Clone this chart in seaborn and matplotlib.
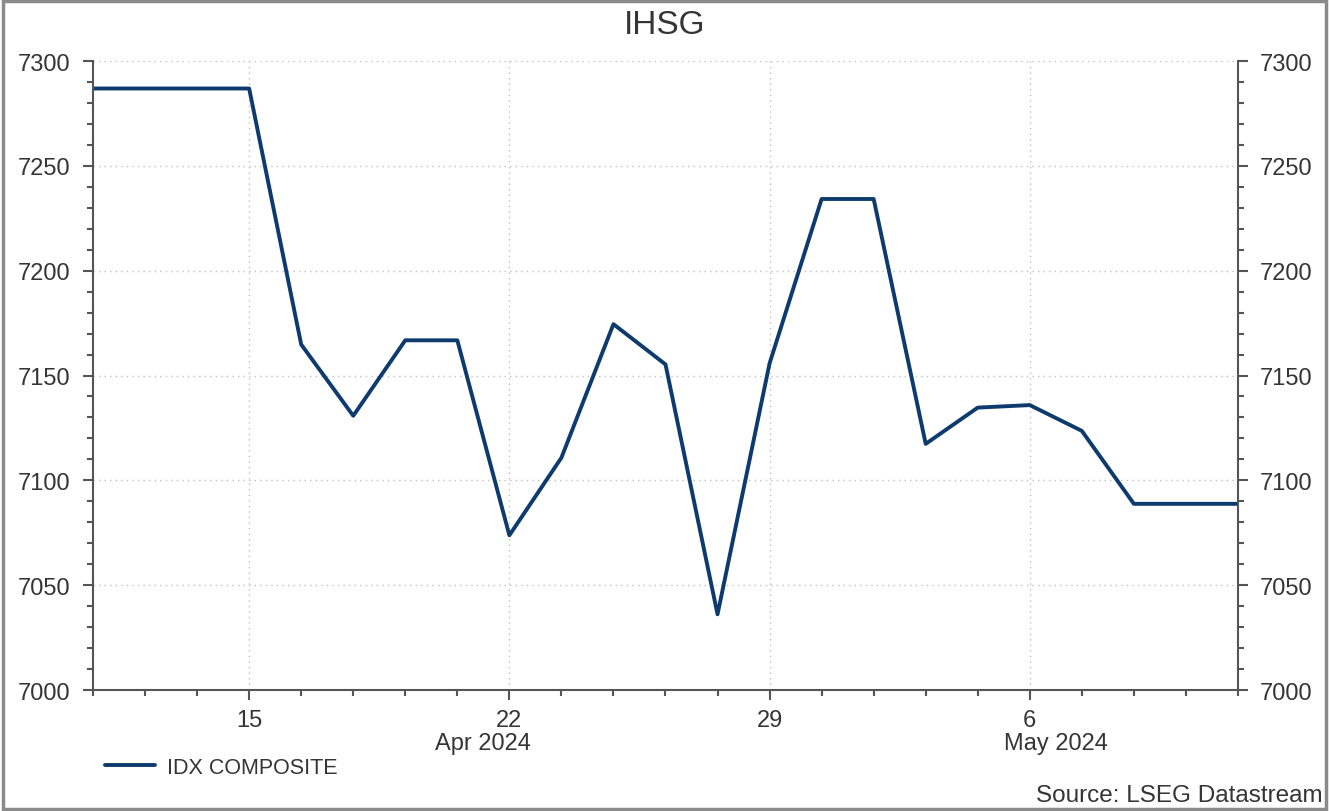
import matplotlib
matplotlib.use("Agg")
import matplotlib.pyplot as plt
import seaborn as sns
import pandas as pd
from matplotlib.patches import Rectangle
from matplotlib.ticker import MultipleLocator, FixedLocator, FixedFormatter

# IDX Composite, business days 10 Apr - 10 May 2024
dates = ['2024-04-10', '2024-04-11', '2024-04-12', '2024-04-15', '2024-04-16',
         '2024-04-17', '2024-04-18', '2024-04-19', '2024-04-22', '2024-04-23',
         '2024-04-24', '2024-04-25', '2024-04-26', '2024-04-29', '2024-04-30',
         '2024-05-01', '2024-05-02', '2024-05-03', '2024-05-06', '2024-05-07',
         '2024-05-08', '2024-05-09', '2024-05-10']
values = [7286.9, 7286.9, 7286.9, 7286.9, 7164.8,
          7130.8, 7166.8, 7166.8, 7073.8, 7110.8,
          7174.5, 7155.3, 7036.1, 7155.8, 7234.2,
          7234.2, 7117.4, 7134.7, 7135.9, 7123.6,
          7088.8, 7088.8, 7088.8]
tick_labels = ['15', '22', '29', '6']
month_labels = ['Apr 2024', 'May 2024']

df = pd.DataFrame({'date': pd.to_datetime(dates), 'value': values})
df['pos'] = range(len(df))  # business-day axis, weekends removed

sns.set_theme(style="white")
plt.rcParams['font.family'] = ['Liberation Sans', 'DejaVu Sans']

text_col = '#353535'
axis_col = '#555555'
line_col = '#0d3b6e'

fig = plt.figure(figsize=(13.29, 8.12), dpi=100)
ax = fig.add_axes([0.07, 0.149, 0.8615, 0.7746])

sns.lineplot(data=df, x='pos', y='value', ax=ax, color=line_col,
             linewidth=2.8, label='IDX COMPOSITE')

last = len(df) - 1
ax.set_xlim(0, last)
ax.set_ylim(7000, 7300)

# major x ticks on Mondays
major_pos = [int(p) for p, d in zip(df['pos'], df['date']) if d.weekday() == 0]
ax.xaxis.set_major_locator(FixedLocator(major_pos))
ax.xaxis.set_major_formatter(FixedFormatter(tick_labels))
ax.xaxis.set_minor_locator(MultipleLocator(1))
ax.yaxis.set_major_locator(MultipleLocator(50))
ax.yaxis.set_minor_locator(MultipleLocator(10))

ax.tick_params(which='both', direction='out', colors=axis_col, labelcolor=text_col,
               left=True, right=True, bottom=True, labelright=True, labelsize=17)
ax.tick_params(which='major', length=7, width=1.5)
ax.tick_params(which='minor', length=4, width=1.5)
ax.tick_params(axis='x', pad=7)
ax.tick_params(axis='y', pad=9)

for side in ['left', 'right', 'bottom']:
    ax.spines[side].set_color(axis_col)
    ax.spines[side].set_linewidth(1.5)
ax.spines['top'].set_visible(False)

ax.grid(True, which='major', linestyle=(0, (1, 3)), color='#c0c0c0', linewidth=1)
ax.set_xlabel('')
ax.set_ylabel('')

# month labels centred on the visible part of each month
may_start = int(df.index[df['date'].dt.month == 5][0])
month_pos = [may_start / 2, (may_start + last) / 2]
for mp, ml in zip(month_pos, month_labels):
    ax.text(mp, -0.085, ml, transform=ax.get_xaxis_transform(), ha='center',
            va='center', fontsize=17, color=text_col)

fig.suptitle('IHSG', y=0.988, fontsize=24, color=text_col)

ax.legend_.remove()
handles, labels = ax.get_legend_handles_labels()
fig.legend(handles, labels, loc='center left', bbox_to_anchor=(0.079, 0.054),
           frameon=False, fontsize=15.5, handlelength=2.3, handletextpad=0.6,
           borderpad=0, borderaxespad=0, labelcolor=text_col)

fig.text(0.995, 0.006, 'Source: LSEG Datastream', ha='right', va='bottom',
         fontsize=17.5, color=text_col)

fig.patches.append(Rectangle((0.002, 0.002), 0.996, 0.995, transform=fig.transFigure,
                             fill=False, edgecolor='#8a8a8a', linewidth=2.5))

fig.savefig('out.png', dpi=100)
